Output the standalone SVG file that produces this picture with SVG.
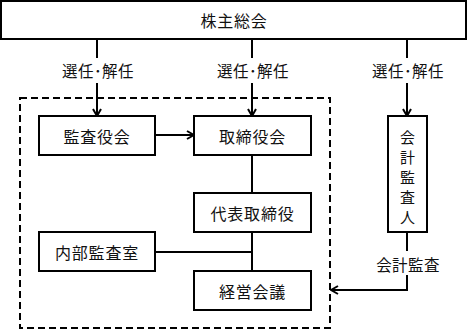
<svg xmlns="http://www.w3.org/2000/svg" width="467" height="331" viewBox="0 0 467 331">
<defs>
<marker id="arr" viewBox="0 0 10 10" refX="9" refY="5" markerWidth="10" markerHeight="10" markerUnits="userSpaceOnUse" orient="auto">
<path d="M2,1 L9,5 L2,9" fill="none" stroke="#000" stroke-width="2"/>
</marker>
</defs>
<style>
.box{fill:#fff;stroke:#000;stroke-width:2}
.ln{fill:none;stroke:#000;stroke-width:2}
.t{font-family:"Noto Sans CJK JP","Noto Sans CJK SC",sans-serif;font-size:16px;fill:#111;text-anchor:middle;dominant-baseline:central;letter-spacing:0.8px}
.v{font-family:"Noto Sans CJK JP","Noto Sans CJK SC",sans-serif;font-size:15px;fill:#111;text-anchor:middle;dominant-baseline:central}
.lb{font-family:"Noto Sans CJK JP","Noto Sans CJK SC",sans-serif;font-size:15.5px;fill:#111;text-anchor:middle;dominant-baseline:central;letter-spacing:0.4px}
</style>
<rect width="467" height="331" fill="#fff"/>
<rect x="20" y="98" width="310" height="230" fill="none" stroke="#000" stroke-width="2" stroke-dasharray="7,4"/>
<g id="connectors">
<line class="ln" x1="97" y1="39" x2="97" y2="58"/>
<line class="ln" x1="97" y1="83" x2="97" y2="116" marker-end="url(#arr)"/>
<line class="ln" x1="252" y1="39" x2="252" y2="58"/>
<line class="ln" x1="252" y1="83" x2="252" y2="116" marker-end="url(#arr)"/>
<line class="ln" x1="407" y1="39" x2="407" y2="58"/>
<line class="ln" x1="407" y1="83" x2="407" y2="116" marker-end="url(#arr)"/>
<line class="ln" x1="155" y1="135" x2="194" y2="135" marker-end="url(#arr)"/>
<line class="ln" x1="252" y1="155" x2="252" y2="193"/>
<line class="ln" x1="252" y1="232" x2="252" y2="271"/>
<line class="ln" x1="155" y1="252" x2="252" y2="252"/>
<line class="ln" x1="407" y1="232" x2="407" y2="251"/>
<polyline class="ln" points="407,275 407,290 331,290" marker-end="url(#arr)"/>
<text class="lb" x="98" y="70">選任･解任</text>
<text class="lb" x="253" y="70">選任･解任</text>
<text class="lb" x="408" y="70">選任･解任</text>
<text class="lb" x="408" y="264">会計監査</text>
</g>
<g id="shareholders"><rect class="box" x="1" y="1" width="465" height="38"/><text class="t" x="234" y="20">株主総会</text></g>
<g id="auditors-board"><rect class="box" x="39" y="116" width="116" height="39"/><text class="t" x="97" y="135.5">監査役会</text></g>
<g id="board"><rect class="box" x="194" y="116" width="117" height="39"/><text class="t" x="252.5" y="135.5">取締役会</text></g>
<g id="rep-director"><rect class="box" x="194" y="193" width="117" height="39"/><text class="t" x="252.5" y="212.5">代表取締役</text></g>
<g id="internal-audit"><rect class="box" x="39" y="232" width="116" height="39"/><text class="t" x="97" y="251.5">内部監査室</text></g>
<g id="mgmt-meeting"><rect class="box" x="194" y="271" width="117" height="39"/><text class="t" x="252.5" y="290.5">経営会議</text></g>
<g id="accounting-auditor"><rect class="box" x="388" y="116" width="39" height="116"/>
<text class="v" x="407.5" y="136">会</text><text class="v" x="407.5" y="156">計</text><text class="v" x="407.5" y="176">監</text><text class="v" x="407.5" y="196">査</text><text class="v" x="407.5" y="216">人</text></g>
</svg>
